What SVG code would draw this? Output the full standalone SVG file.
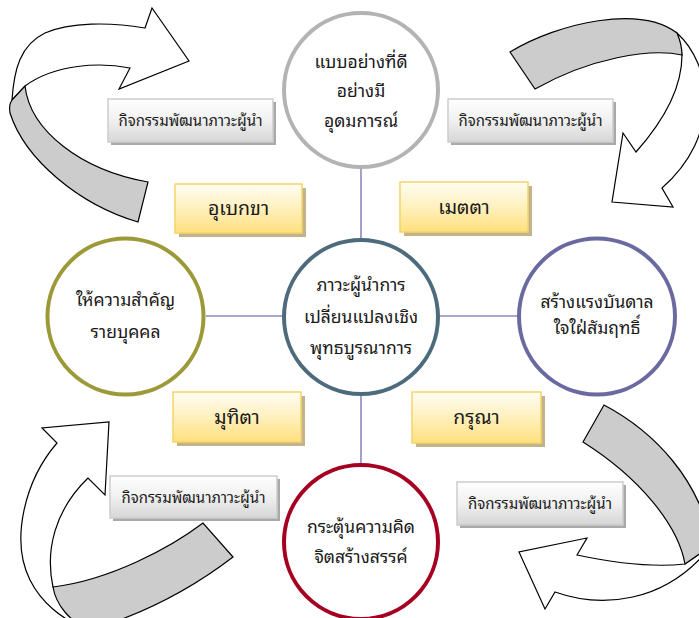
<svg xmlns="http://www.w3.org/2000/svg" width="699" height="618" viewBox="0 0 699 618">
<defs>
<linearGradient id="yg" x1="0" y1="0" x2="0" y2="1">
<stop offset="0" stop-color="#fffdf4"/>
<stop offset="0.5" stop-color="#fff0bd"/>
<stop offset="1" stop-color="#ffe07e"/>
</linearGradient>
<linearGradient id="gg" x1="0" y1="0" x2="0" y2="1">
<stop offset="0" stop-color="#ffffff"/>
<stop offset="0.5" stop-color="#f0f0f0"/>
<stop offset="1" stop-color="#d6d6d6"/>
</linearGradient>
<style>
.t{font-family:"Noto Sans Thai Looped","Noto Serif Thai","Loma","Garuda","Tahoma","Noto Sans Thai","Noto Sans","DejaVu Sans",sans-serif;fill:#1a1a1a;text-anchor:middle}
.ct{font-size:17.5px}
.gt{font-size:15px}
.yt{font-size:19.5px}
.circ{fill:#fff;stroke-width:4}
.ybox{fill:url(#yg);stroke:#f6d467;stroke-width:1.5}
.ysh{fill:#c3b38c}
.gbox{fill:url(#gg);stroke:#cdcdcd;stroke-width:1.5}
.gsh{fill:#a9a9a9}
.conn{stroke:#8c88bb;stroke-width:1.6;fill:none}
.aw{fill:#fff;stroke:#000;stroke-width:1.2;stroke-linejoin:miter}
.ag{fill:#cccccc;stroke:#000;stroke-width:1.2}
</style>
</defs>
<rect width="699" height="618" fill="#fff"/>

<g id="arrow-top-left">
<path class="aw" d="M12,100 C14,70 20,45 45,33 C70,22 110,22 145,28 L152,8 L189,61 L119,89 L130,68 C100,62 55,64 25,86 Z"/>
<path class="ag" d="M25,86 C30,130 80,170 148,182 L138,222 C80,205 25,160 10,113 C9,108 10,103 12,100 Z"/>
</g>
<g id="arrow-top-right">
<path class="aw" d="M677,33 C712,65 722,135 662,188 L673,207 L612,202 L623,133 L636,152 C660,125 682,90 682,55 Z"/>
<path class="ag" d="M510,52 C560,22 640,5 677,33 C680,40 682,48 682,55 C650,48 590,58 535,89 Z"/>
</g>
<g id="arrow-bottom-left">
<path class="aw" d="M53,587 C45,550 55,510 88,478 L105,495 L109,422 L42,428 L57,443 C25,480 10,540 30,580 C40,600 60,620 90,630 Z"/>
<path class="ag" d="M203,523 C170,548 110,580 53,587 C56,605 70,622 90,630 C140,615 190,590 233,557 Z"/>
</g>
<g id="arrow-bottom-right">
<path class="aw" d="M685,564 C650,568 610,562 577,555 L587,538 L519,552 L545,609 L555,592 C600,608 665,605 712,545 Z"/>
<path class="ag" d="M604,405 C655,432 700,480 712,545 L685,564 C678,525 640,478 583,442 Z"/>
</g>

<g id="connectors">
<line class="conn" x1="361" y1="168" x2="361" y2="241"/>
<line class="conn" x1="361" y1="393" x2="361" y2="465"/>
<line class="conn" x1="206" y1="316" x2="283" y2="316"/>
<line class="conn" x1="439" y1="316" x2="518" y2="316"/>
</g>

<g id="activity-tl">
<rect class="gsh" x="111" y="102" width="165" height="43"/>
<rect class="gbox" x="108" y="99" width="165" height="43"/>
<text class="t gt" x="190.5" y="126">กิจกรรมพัฒนาภาวะผู้นำ</text>
</g>
<g id="activity-tr">
<rect class="gsh" x="451" y="102" width="165" height="43"/>
<rect class="gbox" x="448" y="99" width="165" height="43"/>
<text class="t gt" x="530.5" y="126">กิจกรรมพัฒนาภาวะผู้นำ</text>
</g>
<g id="activity-bl">
<rect class="gsh" x="113" y="479" width="167" height="42"/>
<rect class="gbox" x="110" y="476" width="167" height="42"/>
<text class="t gt" x="193.5" y="502.5">กิจกรรมพัฒนาภาวะผู้นำ</text>
</g>
<g id="activity-br">
<rect class="gsh" x="460" y="485" width="166" height="43"/>
<rect class="gbox" x="457" y="482" width="166" height="43"/>
<text class="t gt" x="540" y="509">กิจกรรมพัฒนาภาวะผู้นำ</text>
</g>

<g id="upekkha">
<rect class="ysh" x="179" y="188" width="127" height="49"/>
<rect class="ybox" x="175" y="184" width="127" height="49"/>
<text class="t yt" x="238.5" y="215">อุเบกขา</text>
</g>
<g id="metta">
<rect class="ysh" x="404" y="186" width="128" height="50"/>
<rect class="ybox" x="400" y="182" width="128" height="50"/>
<text class="t yt" x="464" y="213.5">เมตตา</text>
</g>
<g id="mudita">
<rect class="ysh" x="177" y="396" width="128" height="50"/>
<rect class="ybox" x="173" y="392" width="128" height="50"/>
<text class="t yt" x="237" y="423.5">มุทิตา</text>
</g>
<g id="karuna">
<rect class="ysh" x="416" y="396" width="129" height="51"/>
<rect class="ybox" x="412" y="392" width="129" height="51"/>
<text class="t yt" x="476.5" y="424">กรุณา</text>
</g>

<g id="node-top">
<circle class="circ" cx="361" cy="90" r="77" stroke="#b3b3b3"/>
<text class="t ct" x="361" y="68">แบบอย่างที่ดี</text>
<text class="t ct" x="361" y="97">อย่างมี</text>
<text class="t ct" x="361" y="127">อุดมการณ์</text>
</g>
<g id="node-center">
<circle class="circ" cx="361" cy="317" r="77" stroke="#4d6b7d"/>
<text class="t ct" x="361" y="291">ภาวะผู้นำการ</text>
<text class="t ct" x="361" y="323">เปลี่ยนแปลงเชิง</text>
<text class="t ct" x="361" y="354">พุทธบูรณาการ</text>
</g>
<g id="node-left">
<circle class="circ" cx="125.5" cy="316.5" r="78" stroke="#9c9a38"/>
<text class="t ct" x="125.5" y="306">ให้ความสำคัญ</text>
<text class="t ct" x="125.5" y="338">รายบุคคล</text>
</g>
<g id="node-right">
<circle class="circ" cx="597" cy="316.5" r="78" stroke="#6b6aa0"/>
<text class="t ct" x="597" y="308">สร้างแรงบันดาล</text>
<text class="t ct" x="597" y="334">ใจใฝ่สัมฤทธิ์</text>
</g>
<g id="node-bottom">
<circle class="circ" cx="361" cy="542" r="77" stroke="#a50021"/>
<text class="t ct" x="361" y="533">กระตุ้นความคิด</text>
<text class="t ct" x="361" y="563">จิตสร้างสรรค์</text>
</g>
</svg>
